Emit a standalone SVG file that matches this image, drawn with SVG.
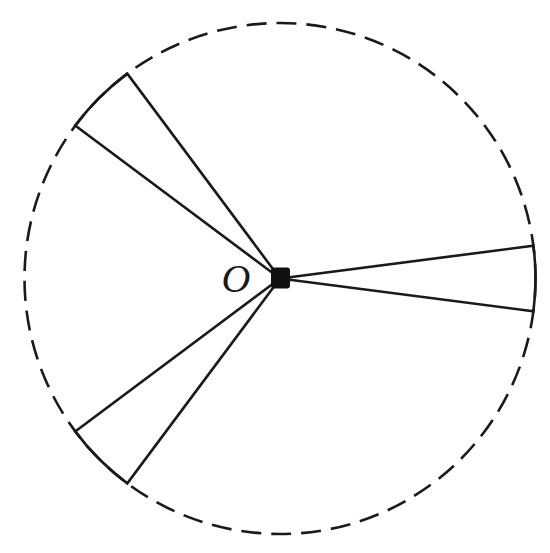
<svg xmlns="http://www.w3.org/2000/svg" width="550" height="553" viewBox="0 0 550 553">
<style>
.circ{fill:none;stroke:#1a1a1a;stroke-width:2.6;stroke-dasharray:20 10}
.sec{fill:none;stroke:#1a1a1a;stroke-width:2.6;stroke-linejoin:miter}
.lbl{font-family:"Liberation Serif",serif;font-style:italic;font-size:40px;fill:#1a1a1a}
</style>
<rect width="550" height="553" fill="#fff"/>
<g id="circle">
<circle class="circ" cx="280" cy="278.5" r="255.5"/>
</g>
<g id="connectors">
<path id="sector-right" class="sec" d="M280 278.5 L533.4 245.7 A255.5 255.5 0 0 1 533.4 311.3 Z"/>
<path id="sector-top" class="sec" d="M280 278.5 L127.3 73.6 A255.5 255.5 0 0 0 75.2 125.6 Z"/>
<path id="sector-bottom" class="sec" d="M280 278.5 L75.2 431.4 A255.5 255.5 0 0 0 127.3 483.4 Z"/>
</g>
<g id="center">
<rect x="271" y="267.5" width="19" height="21" rx="3" fill="#111"/>
<text class="lbl" x="236" y="292" text-anchor="middle">O</text>
</g>
</svg>
